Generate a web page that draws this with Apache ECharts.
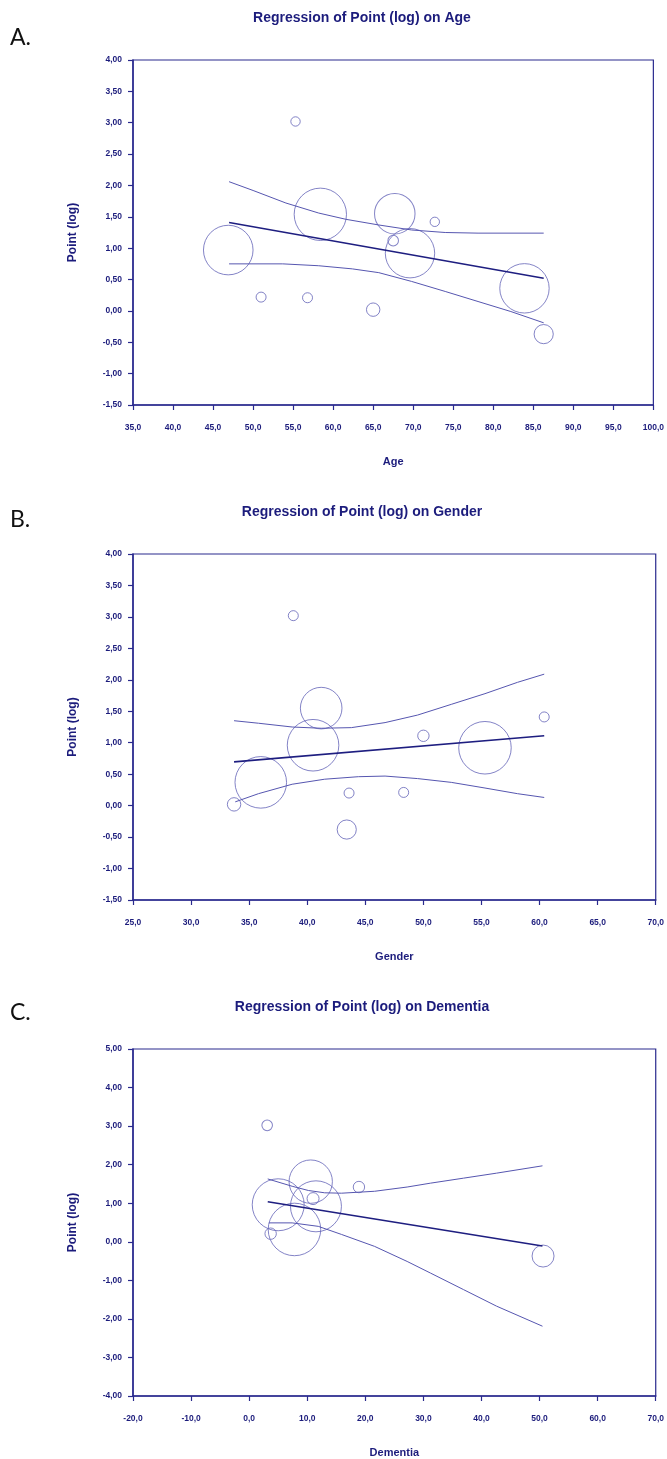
<!DOCTYPE html>
<html>
<head>
<meta charset="UTF-8">
<title>Regression of Point (log)</title>
<script src="https://cdn.jsdelivr.net/npm/echarts@6/dist/echarts.min.js"></script>
<style>
html, body { margin: 0; padding: 0; background: #fff; }
#chart { width: 667px; height: 1459px; }
</style>
</head>
<body>
<div id="chart"></div>
<script type="text/javascript">
// A. Age
var ageX = [55.3, 46.9, 58.4, 67.7, 67.5, 72.7, 69.6, 83.9, 86.3, 51.0, 56.8, 65.0];
var ageY = [3.02, 0.97, 1.54, 1.55, 1.12, 1.42, 0.92, 0.36, -0.37, 0.22, 0.21, 0.02];
var ageW = [0.44, 12.3, 13.7, 8.2, 0.56, 0.44, 12.2, 12.2, 1.84, 0.5, 0.5, 0.9];
var ageFit = [[47.0, 1.41], [86.3, 0.52]];
var ageUpper = [[47.0, 2.06], [50.0, 1.92], [54.1, 1.72], [58.2, 1.56], [61.6, 1.46], [65.7, 1.37],
  [69.8, 1.29], [74.0, 1.25], [78.1, 1.24], [86.3, 1.24]];
var ageLower = [[47.0, 0.75], [53.7, 0.75], [58.2, 0.72], [62.4, 0.67], [65.7, 0.61], [69.8, 0.47],
  [74.0, 0.31], [78.1, 0.15], [82.2, -0.01], [86.3, -0.19]];

// B. Gender
var genX = [38.8, 40.5, 41.2, 50.0, 60.4, 55.3, 36.0, 43.4, 48.3, 43.6, 33.7];
var genY = [3.02, 0.96, 1.55, 1.11, 1.41, 0.92, 0.37, -0.38, 0.21, 0.20, 0.02];
var genW = [0.5, 13.3, 8.65, 0.65, 0.5, 13.8, 13.3, 1.84, 0.5, 0.5, 0.9];
var genFit = [[33.7, 0.695], [60.4, 1.11]];
var genUpper = [[33.7, 1.35], [35.8, 1.31], [38.7, 1.25], [41.2, 1.23], [43.8, 1.24], [46.7, 1.32],
  [49.5, 1.44], [52.4, 1.61], [55.3, 1.78], [58.1, 1.96], [60.4, 2.09]];
var genLower = [[33.8, 0.06], [35.8, 0.19], [38.7, 0.34], [41.5, 0.42], [44.4, 0.46], [46.7, 0.47],
  [49.5, 0.43], [52.4, 0.37], [55.3, 0.28], [58.1, 0.19], [60.4, 0.13]];

// C. Dementia
var demX = [3.1, 5.0, 10.6, 11.0, 18.9, 11.5, 7.8, 50.6, 3.7];
var demY = [3.02, 0.96, 1.56, 1.12, 1.42, 0.92, 0.32, -0.37, 0.21];
var demW = [0.56, 13.5, 9.4, 0.72, 0.65, 13.0, 13.8, 2.42, 0.65];
var demFit = [[3.2, 1.04], [50.5, -0.11]];
var demUpper = [[3.2, 1.63], [7.4, 1.44], [10.2, 1.33], [13.0, 1.27], [15.9, 1.26], [21.6, 1.31],
  [27.2, 1.42], [31.2, 1.52], [36.9, 1.65], [42.6, 1.78], [50.5, 1.97]];
var demLower = [[3.4, 0.49], [7.4, 0.49], [11.9, 0.40], [15.9, 0.19], [21.6, -0.12], [27.2, -0.51],
  [31.2, -0.81], [36.9, -1.24], [42.6, -1.67], [50.5, -2.19]];

var panels = [
  { letter: 'A.', title: 'Regression of Point (log) on Age', xName: 'Age',
    xMin: 35, xMax: 100, xStep: 5, yMin: -1.5, yMax: 4, yStep: 0.5,
    x: ageX, y: ageY, w: ageW, fit: ageFit, upper: ageUpper, lower: ageLower },
  { letter: 'B.', title: 'Regression of Point (log) on Gender', xName: 'Gender',
    xMin: 25, xMax: 70, xStep: 5, yMin: -1.5, yMax: 4, yStep: 0.5,
    x: genX, y: genY, w: genW, fit: genFit, upper: genUpper, lower: genLower },
  { letter: 'C.', title: 'Regression of Point (log) on Dementia', xName: 'Dementia',
    xMin: -20, xMax: 70, xStep: 10, yMin: -4, yMax: 5, yStep: 1,
    x: demX, y: demY, w: demW, fit: demFit, upper: demUpper, lower: demLower }
];

// layout of each panel (pixels)
var boxes = [
  { left: 133, top: 60, width: 524, height: 345, titleY: 19, letterY: 38 },
  { left: 133, top: 554, width: 524, height: 346, titleY: 513, letterY: 520 },
  { left: 133, top: 1049, width: 528, height: 348, titleY: 1008, letterY: 1013 }
];

var navy = '#1c1c7c';
var frame = '#2a2a8e';
var ring = '#6464b8';
var font = '"Liberation Sans", Arial, sans-serif';

var myChart = echarts.init(document.getElementById('chart'), null, { renderer: 'canvas' });

var titles = [], grids = [], xAxes = [], yAxes = [], series = [], graphics = [];

panels.forEach(function (p, i) {
  var b = boxes[i];
  titles.push({
    text: p.title, left: 362, top: b.titleY - 8, textAlign: 'center', padding: 0,
    textStyle: { fontFamily: font, fontSize: 14, fontWeight: 'bold', color: navy }
  });
  graphics.push({
    type: 'text', left: 10, top: b.letterY - 12,
    style: { text: p.letter, font: '23px Lato, "Liberation Sans", sans-serif', fill: '#111' }
  });
  grids.push({
    left: b.left, top: b.top, width: b.width, height: b.height,
    show: true, borderColor: frame, borderWidth: 1.2, backgroundColor: '#fff'
  });
  xAxes.push({
    gridIndex: i, type: 'value', min: p.xMin, max: p.xMax, interval: p.xStep,
    name: p.xName, nameLocation: 'middle', nameGap: 51,
    nameTextStyle: { fontFamily: font, fontSize: 11, fontWeight: 'bold', color: navy },
    axisLine: { onZero: false, lineStyle: { color: frame, width: 1.5 } },
    axisTick: { length: 5, lineStyle: { color: frame, width: 1.2 } },
    axisLabel: {
      margin: 18, fontFamily: font, fontSize: 8.5, fontWeight: 'bold', color: navy,
      formatter: function (v) { return v.toFixed(1).replace('.', ','); }
    },
    splitLine: { show: false }
  });
  yAxes.push({
    gridIndex: i, type: 'value', min: p.yMin, max: p.yMax, interval: p.yStep,
    name: 'Point (log)', nameLocation: 'middle', nameGap: 54,
    nameTextStyle: { fontFamily: font, fontSize: 12, fontWeight: 'bold', color: navy },
    axisLine: { onZero: false, lineStyle: { color: frame, width: 1.5 } },
    axisTick: { length: 5, lineStyle: { color: frame, width: 1.2 } },
    axisLabel: {
      margin: 11, fontFamily: font, fontSize: 8.5, fontWeight: 'bold', color: navy,
      formatter: function (v) { return v.toFixed(2).replace('.', ','); }
    },
    splitLine: { show: false }
  });

  var pts = p.x.map(function (xv, k) { return [xv, p.y[k], p.w[k]]; });
  series.push({
    type: 'scatter', xAxisIndex: i, yAxisIndex: i, data: pts,
    symbol: 'circle',
    symbolSize: function (d) { return 2 * 7.07 * Math.sqrt(d[2]); },
    itemStyle: { color: 'rgba(0,0,0,0)', borderColor: ring, borderWidth: 1 },
    silent: true
  });
  [p.upper, p.lower].forEach(function (c) {
    series.push({
      type: 'line', xAxisIndex: i, yAxisIndex: i, data: c, showSymbol: false,
      smooth: false,
      lineStyle: { color: '#5656b0', width: 1 }, silent: true
    });
  });
  series.push({
    type: 'line', xAxisIndex: i, yAxisIndex: i, data: p.fit, showSymbol: false,
    lineStyle: { color: '#1e1e80', width: 1.6 }, silent: true
  });
});

var option = {
  animation: false,
  backgroundColor: '#fff',
  title: titles,
  grid: grids,
  xAxis: xAxes,
  yAxis: yAxes,
  series: series,
  graphic: graphics
};
myChart.setOption(option);
</script>
</body>
</html>
